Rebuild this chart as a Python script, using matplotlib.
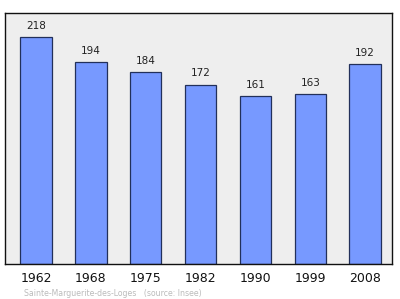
import matplotlib
matplotlib.use("Agg")
import matplotlib.pyplot as plt

years = ["1962", "1968", "1975", "1982", "1990", "1999", "2008"]
population = [218, 194, 184, 172, 161, 163, 192]
footer = "Sainte-Marguerite-des-Loges   (source: Insee)"

fig = plt.figure(figsize=(4.0, 2.99), dpi=100)
ax = fig.add_axes([4.5/400, 1 - 263.5/299, (392 - 4.5)/400, (263.5 - 13)/299])
ax.set_facecolor("#eeeeee")

x = list(range(len(years)))
ax.bar(x, population, width=0.57, color="#7799ff", edgecolor="#22305a", linewidth=0.9, zorder=2)
for xi, v in zip(x, population):
    ax.annotate(str(v), (xi, v), xytext=(0, 4.5), textcoords="offset points",
                ha="center", va="bottom", fontsize=7.5, color="#222222")

ax.set_xlim(-0.575, len(years) - 1 + 0.49)
ax.set_ylim(0, 241)
ax.set_xticks(x)
ax.set_xticklabels(years, fontsize=9, color="#111111")
ax.tick_params(axis="x", length=0, pad=6)
ax.set_yticks([])
for s in ax.spines.values():
    s.set_color("#111111")
    s.set_linewidth(1.0)

fig.text(24/400, 1 - 293/299, footer, fontsize=5.6, color="#bbbbbb", ha="left", va="center")
fig.savefig("out.png", dpi=100)
